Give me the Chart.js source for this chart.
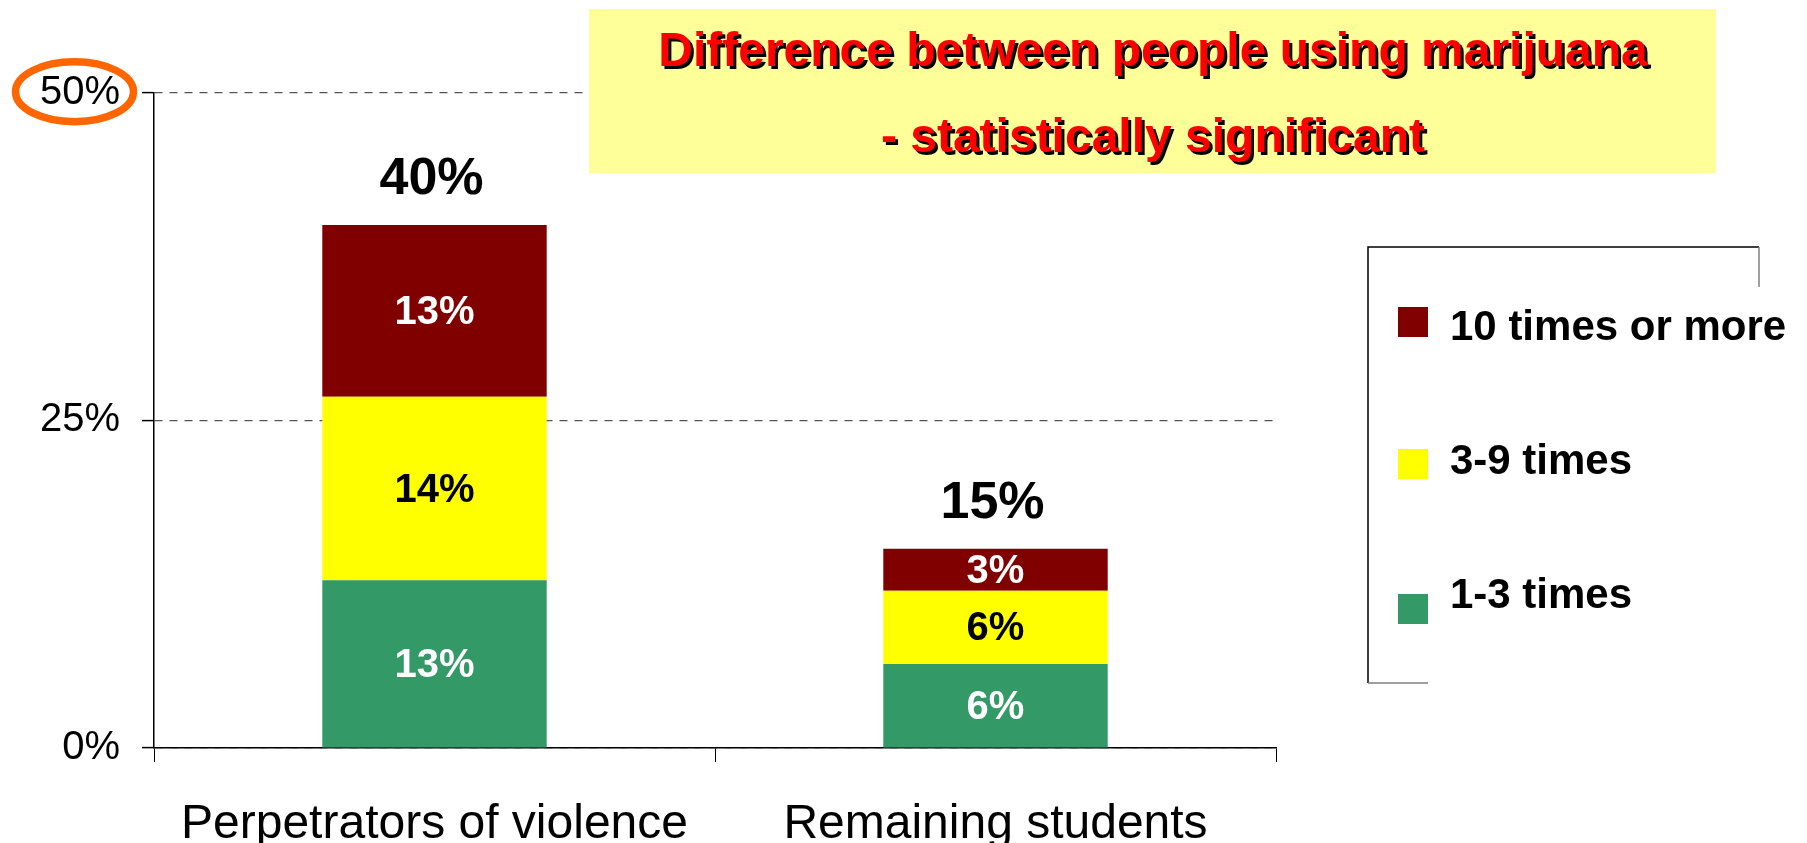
<!DOCTYPE html>
<html>
<head>
<meta charset="utf-8">
<script src="https://cdn.jsdelivr.net/npm/chart.js@4.4.0/dist/chart.umd.min.js"></script>
<style>
  html, body { margin: 0; padding: 0; background: #ffffff; }
  #wrap { width: 1807px; height: 843px; }
</style>
</head>
<body>
<div id="wrap"><canvas id="c" width="1807" height="843"></canvas></div>
<script>
const categories = ['Perpetrators of violence', 'Remaining students'];
const seriesNames = ['1-3 times', '3-9 times', '10 times or more'];
const series1to3 = [12.8, 6.4];
const series3to9 = [14.0, 5.6];
const series10plus = [13.1, 3.2];
const seriesColors = ['#339966', '#FFFF00', '#800000'];
const segmentTextColors = ['#FFFFFF', '#000000', '#FFFFFF'];
const yTickValues = [0, 25, 50];
const titleLines = ['Difference between people using marijuana', '- statistically significant'];

const FONT = '"Liberation Sans", Arial, sans-serif';

const overlay = {
  id: 'overlay',
  afterDatasetsDraw(chart) {
    const ctx = chart.ctx;
    const yScale = chart.scales.y;
    ctx.save();
    chart.data.datasets.forEach((ds, di) => {
      const meta = chart.getDatasetMeta(di);
      meta.data.forEach((el, i) => {
        const v = ds.data[i];
        const cy = (el.y + el.base) / 2;
        ctx.font = 'bold 40px ' + FONT;
        ctx.fillStyle = segmentTextColors[di];
        ctx.textAlign = 'center';
        ctx.textBaseline = 'middle';
        ctx.fillText(Math.round(v) + '%', el.x, cy + 2);
      });
    });
    const n = chart.data.labels.length;
    for (let i = 0; i < n; i++) {
      let total = 0;
      chart.data.datasets.forEach(ds => total += ds.data[i]);
      const top = yScale.getPixelForValue(total);
      const x = chart.getDatasetMeta(0).data[i].x;
      ctx.font = 'bold 52px ' + FONT;
      ctx.fillStyle = '#000000';
      ctx.textAlign = 'center';
      ctx.textBaseline = 'alphabetic';
      ctx.fillText(Math.round(total) + '%', x - 3, top - 31);
    }
    ctx.restore();
  },
  afterDraw(chart) {
    const ctx = chart.ctx;
    ctx.save();
    ctx.fillStyle = '#FFFF99';
    ctx.fillRect(589, 9, 1127, 164);
    ctx.font = 'bold 48px ' + FONT;
    ctx.textAlign = 'center';
    ctx.textBaseline = 'alphabetic';
    const baselines = [66, 152];
    titleLines.forEach((t, i) => {
      ctx.fillStyle = '#000000';
      ctx.fillText(t, 1153 + 3, baselines[i] + 3);
      ctx.fillStyle = '#FF0000';
      ctx.fillText(t, 1153, baselines[i]);
    });
    ctx.lineWidth = 1.5;
    ctx.strokeStyle = '#000000';
    ctx.beginPath();
    ctx.moveTo(1368, 683); ctx.lineTo(1368, 247); ctx.lineTo(1759, 247);
    ctx.stroke();
    ctx.strokeStyle = '#808080';
    ctx.beginPath();
    ctx.moveTo(1759, 247); ctx.lineTo(1759, 287);
    ctx.moveTo(1368, 683); ctx.lineTo(1428, 683);
    ctx.stroke();
    const sqTops = [307, 449, 594];
    const textBase = [340, 474, 608];
    const order = chart.data.datasets.map((d, i) => i).reverse();
    order.forEach((di, row) => {
      const ds = chart.data.datasets[di];
      ctx.fillStyle = ds.backgroundColor;
      ctx.fillRect(1398, sqTops[row], 30, 30);
      ctx.fillStyle = '#000000';
      ctx.font = 'bold 42px ' + FONT;
      ctx.textAlign = 'left';
      ctx.textBaseline = 'alphabetic';
      ctx.fillText(ds.label, 1450, textBase[row]);
    });
    const yTop = chart.scales.y.getPixelForValue(yTickValues[yTickValues.length - 1]);
    ctx.strokeStyle = '#FF6600';
    ctx.lineWidth = 7.5;
    ctx.beginPath();
    ctx.ellipse(74.5, yTop - 1, 59, 30, 0, 0, Math.PI * 2);
    ctx.stroke();
    ctx.restore();
  }
};

new Chart(document.getElementById('c'), {
  type: 'bar',
  data: {
    labels: categories,
    datasets: [
      { label: seriesNames[0], data: series1to3, backgroundColor: seriesColors[0] },
      { label: seriesNames[1], data: series3to9, backgroundColor: seriesColors[1] },
      { label: seriesNames[2], data: series10plus, backgroundColor: seriesColors[2] }
    ]
  },
  options: {
    responsive: false,
    animation: false,
    devicePixelRatio: 1,
    layout: { padding: { top: 92.7, right: 531, bottom: 0, left: 0 } },
    plugins: { legend: { display: false }, tooltip: { enabled: false } },
    datasets: { bar: { categoryPercentage: 1, barPercentage: 0.4, borderWidth: 0 } },
    scales: {
      x: {
        stacked: true,
        offset: true,
        grid: { display: true, drawOnChartArea: false, offset: true, tickLength: 14, color: '#000000', tickColor: '#000000' },
        border: { display: true, color: '#000000', width: 1.5 },
        ticks: { color: '#000000', font: { family: FONT, size: 48 }, padding: 34, maxRotation: 0, autoSkip: false },
        afterFit(scale) { scale.height = 95; }
      },
      y: {
        stacked: true,
        min: 0,
        max: 50,
        afterBuildTicks(scale) { scale.ticks = yTickValues.map(v => ({ value: v })); },
        grid: { color: '#555555', lineWidth: 1.2, tickLength: 12, tickColor: '#000000', tickWidth: 1.5 },
        border: { display: true, color: '#000000', width: 1.5, dash: [8, 7] },
        ticks: { color: '#000000', font: { family: FONT, size: 40 }, padding: 22, callback: v => v + '%' },
        afterFit(scale) { scale.width = 154; }
      }
    }
  },
  plugins: [overlay]
});
</script>
</body>
</html>
